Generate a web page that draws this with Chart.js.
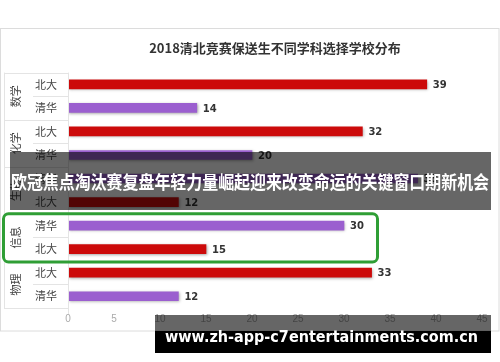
<!DOCTYPE html>
<html>
<head>
<meta charset="utf-8">
<script src="https://cdn.jsdelivr.net/npm/chart.js@4"></script>
<style>
  html, body { margin: 0; padding: 0; background: #fff; }
  #wrap { width: 500px; height: 362px; }
</style>
</head>
<body>
<div id="wrap"><canvas id="chart" width="500" height="362"></canvas></div>
<script>
// data, rows from top to bottom
const titleText = "2018清北竞赛保送生不同学科选择学校分布";
const subjects = ["数学", "化学", "生物", "信息", "物理"];
const rowSchools = ["北大", "清华", "北大", "清华", "清华", "北大", "清华", "北大", "北大", "清华"];
const rowValues = [39, 14, 32, 20, 38, 12, 30, 15, 33, 12];
const xTicks = [0, 5, 10, 15, 20, 25, 30, 35, 40, 45];
const bannerText = "欧冠焦点淘汰赛复盘年轻力量崛起迎来改变命运的关键窗口期新机会";
const watermarkText = "www.zh-app-c7entertainments.com.cn";

const schoolColors = { "北大": "#cc0a0a", "清华": "#9b5fcf" };
const cjk = '"Noto Sans CJK SC", "Noto Sans", sans-serif';

// frame + white background
const framePlugin = {
  id: "frame",
  beforeDraw(chart) {
    const c = chart.ctx;
    c.save();
    c.fillStyle = "#fff";
    c.fillRect(0, 0, chart.width, chart.height);
    c.strokeStyle = "#dcdcdc";
    c.lineWidth = 1;
    c.strokeRect(0.5, 28.5, 498.5, 302.5);
    c.restore();
  }
};

// soft shadow under the bars
const shadowPlugin = {
  id: "barShadow",
  beforeDatasetsDraw(chart) {
    const c = chart.ctx;
    c.save();
    c.shadowColor = "rgba(0,0,0,0.35)";
    c.shadowBlur = 3;
    c.shadowOffsetX = 1;
    c.shadowOffsetY = 1;
  },
  afterDatasetsDraw(chart) {
    chart.ctx.restore();
  }
};

const overlayPlugin = {
  id: "overlay",
  afterDraw(chart) {
    const c = chart.ctx;
    const yS = chart.scales.y;
    const xS = chart.scales.x;
    const area = chart.chartArea;
    const rowH = (area.bottom - area.top) / rowSchools.length;
    const left = area.left;

    c.save();

    // value labels
    c.fillStyle = "#333";
    c.font = 'bold 10px "DejaVu Sans", sans-serif';
    c.textAlign = "left";
    c.textBaseline = "middle";
    rowValues.forEach((v, i) => {
      c.fillText(String(v), xS.getPixelForValue(v) + 6, yS.getPixelForValue(i) + 1);
    });

    // category panel (two levels)
    c.strokeStyle = "#e4e4e4";
    c.lineWidth = 1;
    c.beginPath();
    c.moveTo(left + 0.5, area.top);
    c.lineTo(left + 0.5, area.bottom + 6);
    for (let i = 0; i <= rowSchools.length; i++) {
      const y = Math.round(area.top + i * rowH) + 0.5;
      const x0 = (i % 2 === 0) ? 4 : 33;
      c.moveTo(x0, y);
      c.lineTo(left, y);
    }
    c.moveTo(4.5, area.top);
    c.lineTo(4.5, area.bottom);
    c.stroke();

    c.fillStyle = "#444";
    c.font = "11px " + cjk;
    c.textAlign = "center";
    rowSchools.forEach((s, i) => {
      c.fillText(s, 46, yS.getPixelForValue(i));
    });
    subjects.forEach((s, g) => {
      const yc = (yS.getPixelForValue(g * 2) + yS.getPixelForValue(g * 2 + 1)) / 2;
      c.save();
      c.translate(16, yc);
      c.rotate(-Math.PI / 2);
      c.font = "11px " + cjk;
      c.fillText(s, 0, 0);
      c.restore();
    });

    // green highlight round the 信息 group
    const gi = subjects.indexOf("信息");
    const gTop = yS.getPixelForValue(gi * 2) - rowH / 2;
    const gBot = yS.getPixelForValue(gi * 2 + 1) + rowH / 2;
    c.strokeStyle = "#2f9e35";
    c.lineWidth = 3;
    c.beginPath();
    c.roundRect(3.5, gTop, 374, gBot - gTop + 1, 5);
    c.stroke();

    // banner over the middle
    c.fillStyle = "rgba(0,0,0,0.6)";
    c.fillRect(10, 152, 481, 58);
    c.fillStyle = "#fff";
    c.font = "bold 17px " + cjk;
    c.textAlign = "left";
    c.textBaseline = "middle";
    let w = c.measureText(bannerText).width;
    c.save();
    c.translate(11, 182);
    c.scale(478 / w, 1.1);
    c.fillText(bannerText, 0, 0);
    c.restore();

    // watermark at the bottom
    c.fillStyle = "rgba(0,0,0,0.6)";
    c.fillRect(155, 315, 336, 16);
    c.fillStyle = "#000";
    c.fillRect(155, 331, 336, 22);
    c.fillStyle = "#fff";
    c.font = 'bold 16px "DejaVu Sans", sans-serif';
    w = c.measureText(watermarkText).width;
    c.save();
    c.translate(165, 338);
    c.scale(313 / w, 1);
    c.fillText(watermarkText, 0, 0);
    c.restore();

    c.restore();
  }
};

new Chart(document.getElementById("chart"), {
  type: "bar",
  data: {
    labels: rowSchools,
    datasets: [{
      data: rowValues,
      backgroundColor: rowSchools.map(s => schoolColors[s]),
      barThickness: 9,
      borderWidth: 0
    }]
  },
  options: {
    indexAxis: "y",
    responsive: false,
    animation: false,
    layout: { padding: { left: 68, right: 18, top: 39, bottom: 32 } },
    plugins: {
      legend: { display: false },
      tooltip: { enabled: false },
      title: {
        display: true,
        text: titleText,
        color: "#333",
        font: { family: cjk, size: 13, weight: "bold" },
        padding: { top: 1, bottom: 17 }
      }
    },
    scales: {
      x: {
        min: 0,
        max: 45,
        afterBuildTicks(axis) { axis.ticks = xTicks.map(v => ({ value: v })); },
        grid: { display: false, drawTicks: false },
        border: { display: false },
        ticks: { color: "#aaa", font: { size: 10, family: '"Liberation Sans", sans-serif' }, padding: 5 }
      },
      y: {
        display: false
      }
    }
  },
  plugins: [framePlugin, shadowPlugin, overlayPlugin]
});
</script>
</body>
</html>
